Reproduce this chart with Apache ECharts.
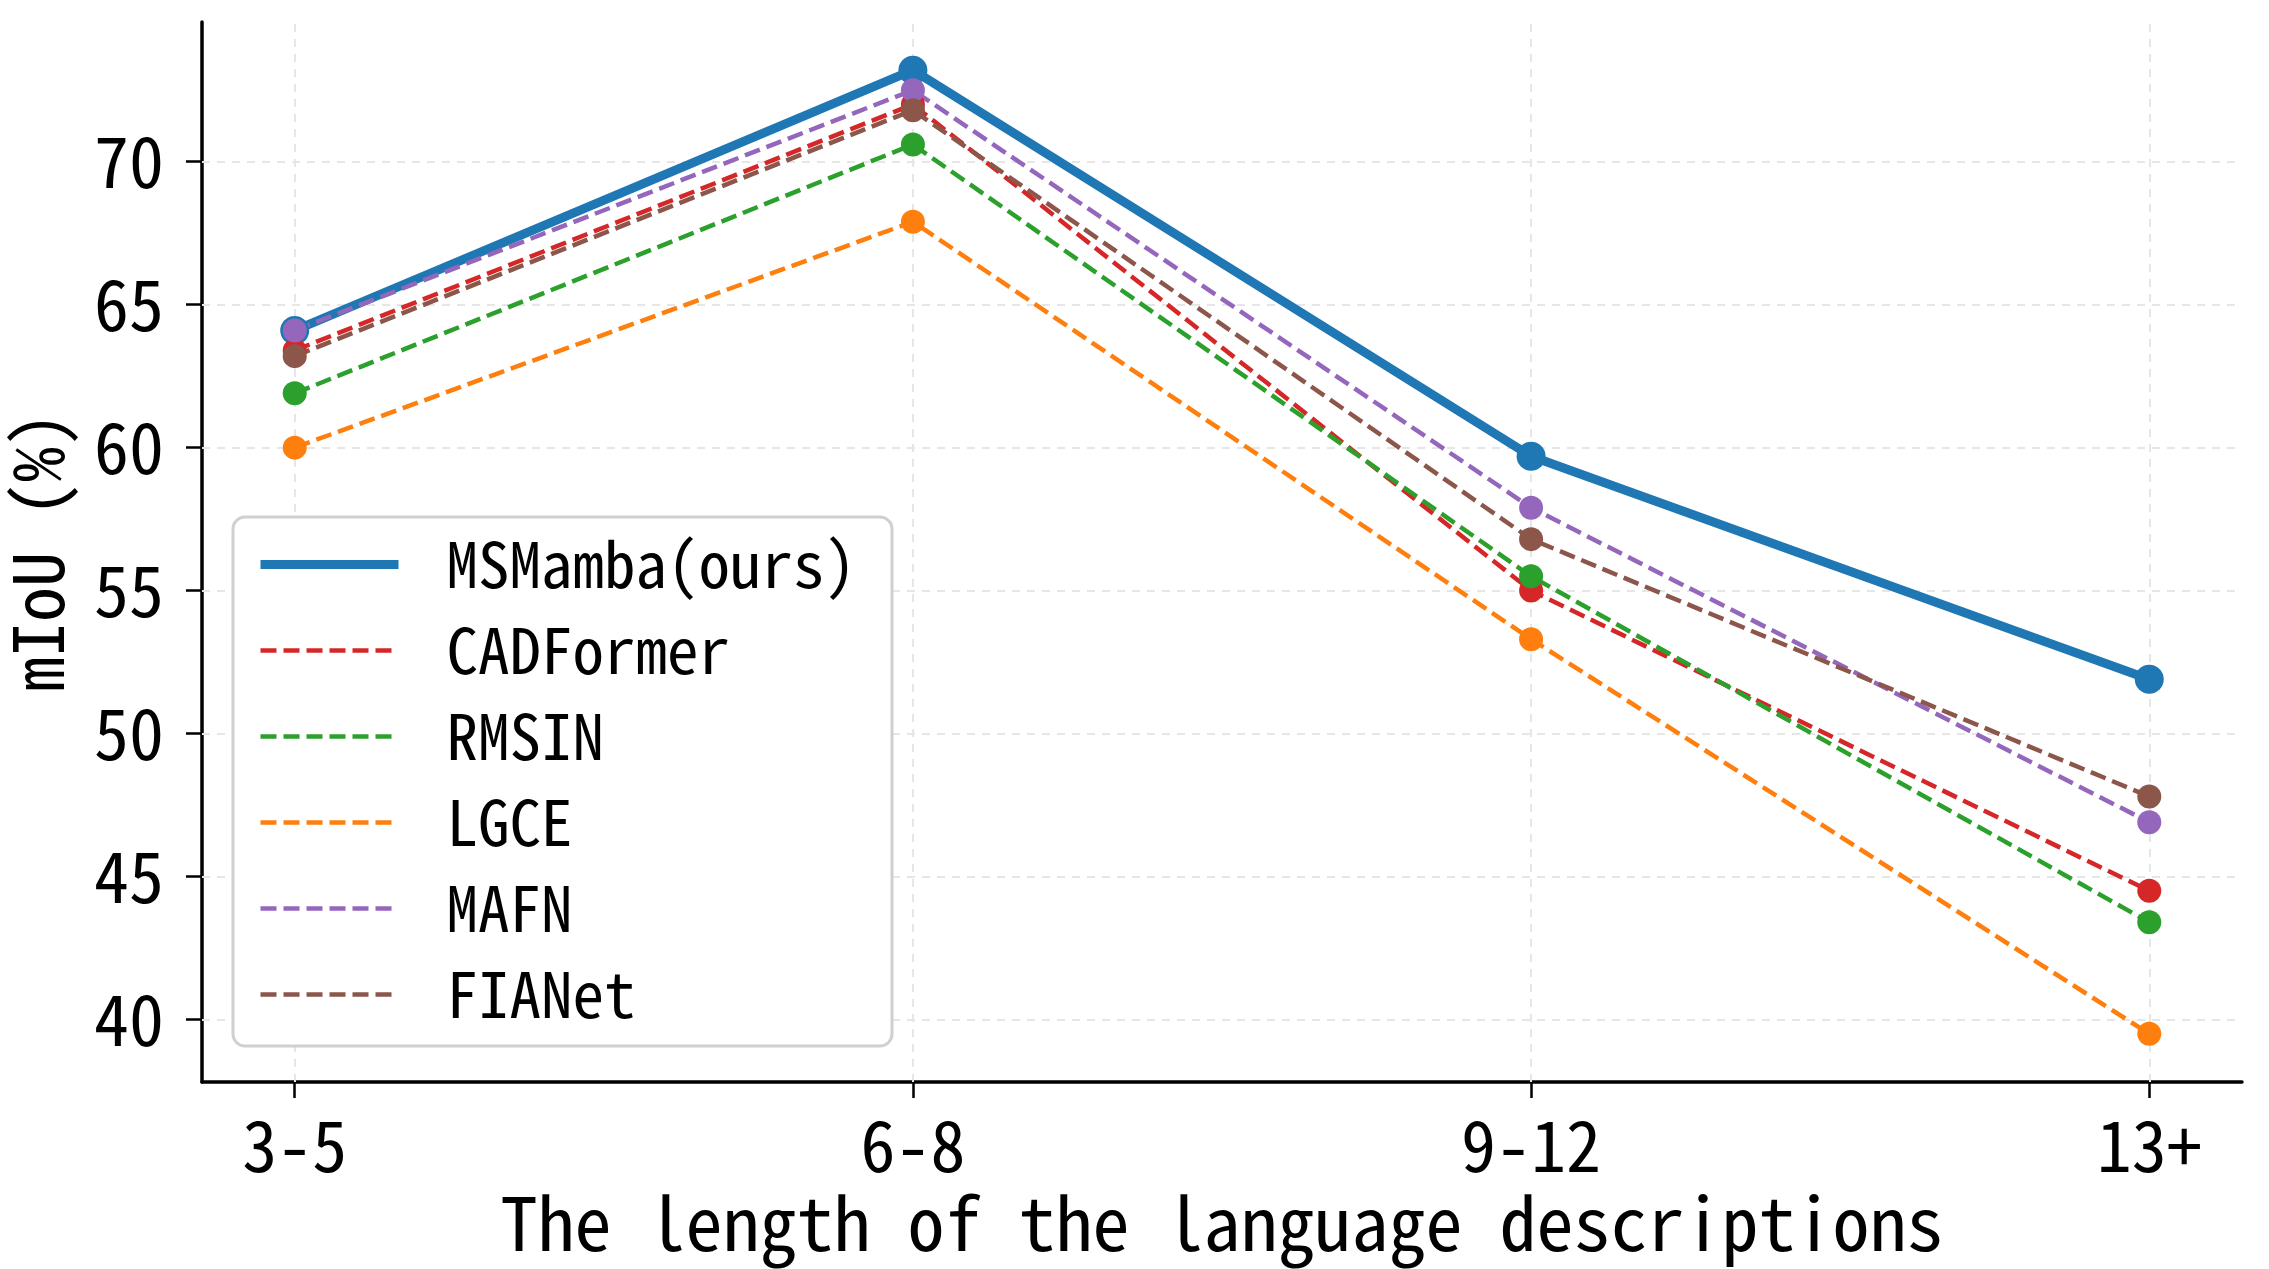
<!DOCTYPE html>
<html>
<head>
<meta charset="utf-8">
<script src="https://cdn.jsdelivr.net/npm/echarts@6/dist/echarts.min.js"></script>
<style>html,body{margin:0;padding:0;background:#fff}#c{width:2269px;height:1269px}</style>
</head>
<body>
<div id="c"></div>
<script>
const categories = ['3-5', '6-8', '9-12', '13+'];
const yTicks = [40, 45, 50, 55, 60, 65, 70];
const seriesNames = ['MSMamba(ours)', 'CADFormer', 'RMSIN', 'LGCE', 'MAFN', 'FIANet'];
const msmamba   = [64.1, 73.2, 59.7, 51.9];
const cadformer = [63.4, 72.0, 55.0, 44.5];
const rmsin     = [61.9, 70.6, 55.5, 43.4];
const lgce      = [60.0, 67.9, 53.3, 39.5];
const mafn      = [64.1, 72.5, 57.9, 46.9];
const fianet    = [63.2, 71.8, 56.8, 47.8];

const values = [msmamba, cadformer, rmsin, lgce, mafn, fianet];
const colors = ['#1f77b4', '#d62728', '#2ca02c', '#ff7f0e', '#9467bd', '#8c564b'];
const FONT = "'Noto Sans Mono CJK SC', 'DejaVu Sans Mono', monospace";

const chart = echarts.init(document.getElementById('c'), null, {renderer: 'canvas'});
const idx = categories.map((c, i) => i);

const series = [{
  name: '__grid',
  type: 'line',
  data: [],
  silent: true,
  z: 1,
  animation: false,
  markLine: {
    silent: true,
    z: 1,
    symbol: 'none',
    label: {show: false},
    animation: false,
    lineStyle: {color: '#e6e6e6', width: 2, type: [8, 7]},
    data: idx.map(i => ({xAxis: i})).concat(yTicks.map(v => ({yAxis: v})))
  }
}];

values.forEach((vals, s) => {
  const main = s === 0;
  const pts = vals.map((v, i) => [i, v]);
  series.push({
    name: seriesNames[s],
    type: 'line',
    data: pts,
    symbol: 'none',
    lineStyle: {color: colors[s], width: main ? 9 : 4.5, type: main ? 'solid' : [16, 7]},
    itemStyle: {color: colors[s]},
    emphasis: {disabled: true},
    silent: true,
    z: 3,
    animation: false
  });
  series.push({
    name: seriesNames[s] + ' markers',
    type: 'scatter',
    data: pts,
    symbol: 'circle',
    symbolSize: main ? 29 : 24,
    itemStyle: {color: colors[s], opacity: 1, borderWidth: 0},
    emphasis: {disabled: true},
    silent: true,
    z: 3,
    animation: false
  });
});

chart.setOption({
  backgroundColor: '#ffffff',
  animation: false,
  grid: {left: 202, right: 27, top: 22, bottom: 187, containLabel: false, outerBoundsMode: 'none'},
  xAxis: {
    type: 'value',
    min: -0.15,
    max: 3.15,
    name: 'The length of the language descriptions',
    nameLocation: 'middle',
    nameGap: 104,
    nameTextStyle: {fontFamily: FONT, fontSize: 74, color: '#000'},
    axisLine: {show: true, onZero: false, lineStyle: {color: '#000', width: 3.5}},
    axisTick: {show: true, length: 16, customValues: idx, lineStyle: {color: '#000', width: 2.5}},
    axisLabel: {show: true, customValues: idx, margin: 28, fontFamily: FONT, fontSize: 70, color: '#000',
      formatter: v => categories[Math.round(v)]},
    splitLine: {show: false}
  },
  yAxis: {
    type: 'value',
    min: 37.815,
    max: 74.885,
    name: 'mIoU (%)',
    nameLocation: 'middle',
    nameRotate: 90,
    nameGap: 130,
    nameTextStyle: {fontFamily: FONT, fontSize: 70, color: '#000'},
    axisLine: {show: true, onZero: false, lineStyle: {color: '#000', width: 3.5}},
    axisTick: {show: true, length: 16, customValues: yTicks, lineStyle: {color: '#000', width: 2.5}},
    axisLabel: {show: true, customValues: yTicks, margin: 38, fontFamily: FONT, fontSize: 70, color: '#000'},
    splitLine: {show: false}
  },
  legend: {
    orient: 'vertical',
    left: 233,
    top: 517,
    data: seriesNames,
    itemWidth: 138,
    itemHeight: 30,
    itemGap: 23,
    padding: [16, 36, 20, 23],
    backgroundColor: '#ffffff',
    borderColor: '#d0d0d0',
    borderWidth: 3,
    borderRadius: 12,
    itemStyle: {opacity: 0},
    lineStyle: {width: 'inherit', type: 'inherit'},
    textStyle: {fontFamily: FONT, fontSize: 63, color: '#000', lineHeight: 60, padding: [0, 0, 0, 43]}
  },
  series: series
});
</script>
</body>
</html>
